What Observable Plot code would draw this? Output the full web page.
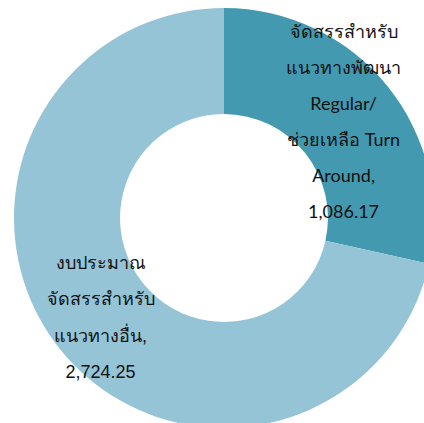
<!DOCTYPE html>
<html>
<head>
<meta charset="utf-8">
<script src="https://cdn.jsdelivr.net/npm/d3@7"></script>
<script src="https://cdn.jsdelivr.net/npm/@observablehq/plot@0.6"></script>
<style>
html,body{margin:0;padding:0;background:#fff;}
</style>
</head>
<body>
<div id="chart"></div>
<script>
const categories = [
  "จัดสรรสำหรับ\nแนวทางพัฒนา\nRegular/\nช่วยเหลือ Turn\nAround",
  "งบประมาณ\nจัดสรรสำหรับ\nแนวทางอื่น"
];
const values = [1086.17, 2724.25];
const valueLabels = ["1,086.17", "2,724.25"];
const colors = ["#4399b0", "#95c4d7"];

const W = 424, H = 423;
const cx = 224, cy = 218, R = 210;
const innerRatio = 0.495;

const pie = d3.pie().sort(null).value(d => d.value)(
  categories.map((c, i) => ({category: c, value: values[i], label: valueLabels[i], color: colors[i]}))
);

// label positions in data units (radius = 1)
const labelPos = [
  {x: 0.567, y: 0.486},
  {x: -0.59, y: -0.445}
];
const labels = pie.map((p, i) => ({
  text: p.data.category + ",\n" + p.data.label,
  x: labelPos[i].x,
  y: labelPos[i].y
}));

function arcsMark(index, scales) {
  const x0 = scales.x(0), y0 = scales.y(0);
  const r = scales.x(1) - x0;
  const arc = d3.arc().innerRadius(r * innerRatio).outerRadius(r);
  const g = d3.create("svg:g").attr("transform", `translate(${x0},${y0})`);
  g.selectAll("path").data(pie).join("path")
    .attr("d", arc)
    .attr("fill", d => d.data.color)
    .attr("stroke", "none");
  return g.node();
}

const chart = Plot.plot({
  width: W,
  height: H,
  margin: 0,
  x: {domain: [-cx / R, (W - cx) / R], axis: null},
  y: {domain: [-(H - cy) / R, cy / R], axis: null},
  style: {background: "#fff"},
  marks: [
    arcsMark,
    Plot.text([labels[0]], {
      x: "x", y: "y", text: "text",
      fontSize: 18, lineHeight: 2.01, fill: "#111",
      fontFamily: "Lato, 'Noto Sans', sans-serif", fontWeight: "normal"
    }),
    Plot.text([labels[1]], {
      x: "x", y: "y", text: "text",
      fontSize: 18, lineHeight: 2.03, fill: "#111",
      fontFamily: "'Liberation Sans', Arial, sans-serif"
    })
  ]
});
document.getElementById("chart").appendChild(chart);
</script>
</body>
</html>
